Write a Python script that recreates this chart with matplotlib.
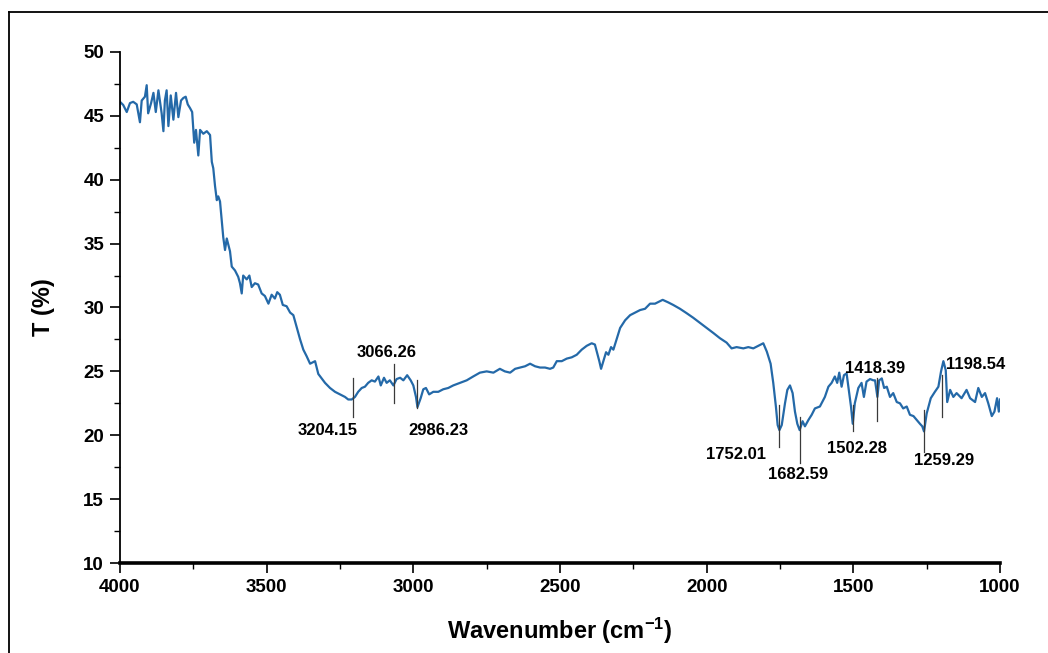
import matplotlib
matplotlib.use("Agg")
import matplotlib.pyplot as plt
from matplotlib.lines import Line2D
from matplotlib.ticker import MultipleLocator

plt.rcParams['font.family'] = ['Liberation Sans', 'DejaVu Sans']
plt.rcParams['font.weight'] = 'bold'
plt.rcParams['mathtext.fontset'] = 'custom'
plt.rcParams['mathtext.rm'] = 'Liberation Sans:bold'
plt.rcParams['mathtext.bf'] = 'Liberation Sans:bold'
plt.rcParams['mathtext.default'] = 'bf'

# FTIR spectrum: wavenumber (cm-1) and transmittance (%)
wavenumber = [
    4000, 3989, 3977, 3966, 3955, 3943, 3932, 3926, 3915, 3909, 3904, 3894, 3886, 3878,
    3869, 3858, 3852, 3847, 3841, 3835, 3827, 3818, 3809, 3801, 3792, 3784, 3776, 3769,
    3761, 3754, 3747, 3741, 3733, 3727, 3716, 3704, 3693, 3687, 3682, 3676, 3670, 3665,
    3659, 3648, 3642, 3636, 3625, 3619, 3608, 3597, 3591, 3585, 3580, 3568, 3559, 3551,
    3540, 3529, 3517, 3506, 3494, 3483, 3472, 3464, 3455, 3445, 3432, 3420, 3409, 3398,
    3386, 3375, 3364, 3352, 3335, 3324, 3301, 3284, 3267, 3250, 3233, 3222, 3210, 3199,
    3188, 3176, 3165, 3154, 3142, 3131, 3119, 3111, 3100, 3091, 3080, 3068, 3057, 3045,
    3034, 3021, 3009, 3000, 2991, 2986, 2975, 2966, 2957, 2946, 2932, 2915, 2898, 2881,
    2864, 2841, 2818, 2796, 2773, 2750, 2727, 2705, 2688, 2670, 2653, 2636, 2619, 2602,
    2585, 2568, 2551, 2534, 2523, 2511, 2494, 2477, 2460, 2443, 2426, 2409, 2392, 2381,
    2373, 2366, 2360, 2352, 2343, 2335, 2326, 2318, 2307, 2295, 2278, 2261, 2244, 2227,
    2210, 2193, 2176, 2150, 2131, 2114, 2091, 2068, 2046, 2023, 2000, 1977, 1955, 1932,
    1915, 1898, 1875, 1858, 1841, 1824, 1807, 1795, 1782, 1773, 1764, 1758, 1752, 1744,
    1733, 1725, 1716, 1707, 1699, 1691, 1683, 1673, 1665, 1653, 1642, 1631, 1614, 1597,
    1585, 1574, 1563, 1555, 1548, 1540, 1532, 1523, 1514, 1508, 1502, 1495, 1483, 1472,
    1464, 1455, 1443, 1432, 1426, 1418, 1412, 1403, 1395, 1386, 1375, 1364, 1352, 1341,
    1330, 1318, 1307, 1295, 1284, 1273, 1265, 1259, 1250, 1236, 1222, 1210, 1201, 1193,
    1185, 1180, 1170, 1159, 1148, 1131, 1114, 1102, 1085, 1074, 1062, 1051, 1040, 1028,
    1019, 1010, 1004, 1000,
]
transmittance = [
    46.1, 45.85, 45.3, 46.0, 46.1, 45.9, 44.5, 46.2, 46.5, 47.4, 45.2, 46.0, 46.8, 45.3,
    47.0, 45.2, 43.8, 46.2, 47.0, 44.2, 46.6, 44.7, 46.8, 44.9, 46.2, 46.4, 46.5, 45.9,
    45.6, 45.3, 42.9, 43.9, 41.9, 43.9, 43.6, 43.8, 43.5, 41.4, 40.9, 39.5, 38.4, 38.7,
    38.3, 35.5, 34.5, 35.4, 34.4, 33.2, 32.9, 32.4, 31.9, 31.1, 32.5, 32.2, 32.5, 31.6,
    31.9, 31.8, 31.1, 30.9, 30.3, 31.0, 30.7, 31.2, 31.0, 30.2, 30.1, 29.6, 29.4, 28.5,
    27.5, 26.7, 26.2, 25.6, 25.8, 24.8, 24.1, 23.7, 23.4, 23.2, 23.0, 22.8, 22.8, 23.0,
    23.4, 23.7, 23.8, 24.1, 24.3, 24.2, 24.6, 23.9, 24.5, 24.1, 24.3, 23.9, 24.4, 24.5,
    24.3, 24.7, 24.3, 23.9, 23.0, 22.2, 22.9, 23.6, 23.7, 23.2, 23.4, 23.4, 23.6, 23.7,
    23.9, 24.1, 24.3, 24.6, 24.9, 25.0, 24.9, 25.2, 25.0, 24.9, 25.2, 25.3, 25.4, 25.6,
    25.4, 25.3, 25.3, 25.2, 25.3, 25.8, 25.8, 26.0, 26.1, 26.3, 26.7, 27.0, 27.2, 27.1,
    26.4, 25.8, 25.2, 25.8, 26.5, 26.3, 26.9, 26.7, 27.5, 28.4, 29.0, 29.4, 29.6, 29.8,
    29.9, 30.3, 30.3, 30.6, 30.4, 30.2, 29.9, 29.55, 29.2, 28.8, 28.4, 28.0, 27.6, 27.25,
    26.8, 26.9, 26.8, 26.9, 26.8, 27.0, 27.2, 26.55, 25.6, 24.1, 22.25, 20.8, 20.4, 20.8,
    22.5, 23.55, 23.9, 23.3, 21.85, 20.9, 20.4, 21.1, 20.7, 21.2, 21.6, 22.1, 22.25, 23.0,
    23.8, 24.1, 24.6, 24.1, 24.9, 23.8, 24.7, 24.85, 23.3, 22.25, 20.9, 22.5, 23.7, 24.1,
    23.0, 24.2, 24.4, 24.3, 24.3, 23.0, 24.3, 24.45, 23.7, 23.8, 23.0, 23.3, 22.6, 22.5,
    22.1, 22.25, 21.6, 21.5, 21.2, 20.9, 20.7, 20.3, 21.7, 22.9, 23.4, 23.8, 25.0, 25.8,
    25.1, 22.6, 23.55, 23.0, 23.3, 22.9, 23.55, 22.9, 22.6, 23.7, 23.0, 23.3, 22.5, 21.5,
    21.85, 22.9, 21.85, 22.8,
]

# Labelled band positions (cm-1)
peak_positions = [3204.15, 3066.26, 2986.23, 1752.01, 1682.59, 1502.28, 1418.39, 1259.29, 1198.54]

x_ticks = [4000, 3500, 3000, 2500, 2000, 1500, 1000]
y_ticks = [10, 15, 20, 25, 30, 35, 40, 45, 50]

fig = plt.figure(figsize=(10.48, 6.53), dpi=100)
ax = fig.add_axes([0.1145, 0.1378, 0.8397, 0.7826])

ax.plot(wavenumber, transmittance, color='#2469a8', lw=1.6)

ax.set_xlim(4000, 1000)
ax.set_ylim(10, 50)
ax.set_xticks(x_ticks)
ax.set_yticks(y_ticks)
ax.xaxis.set_minor_locator(MultipleLocator(250))
ax.yaxis.set_minor_locator(MultipleLocator(2.5))

for side in ('top', 'right'):
    ax.spines[side].set_visible(False)
ax.spines['left'].set_linewidth(1.3)
ax.spines['bottom'].set_linewidth(2.6)

ax.tick_params(axis='both', which='major', direction='out', length=7, width=1.2,
               labelsize=13.5, pad=4.5)
ax.tick_params(axis='both', which='minor', direction='out', length=4, width=1.0)
for lab in ax.get_xticklabels() + ax.get_yticklabels():
    lab.set_fontweight('bold')

ax.set_xlabel('Wavenumber (cm$^{\\mathbf{-1}}$)', fontsize=17, fontweight='bold', labelpad=14)
ax.set_ylabel('T (%)', fontsize=17, fontweight='bold', labelpad=20)

# Marker line extents and label placement for each band: (low, high, label x, label y)
marker_layout = [
    (21.4, 24.5, 3291, 20.35),
    (22.5, 25.6, 3091, 26.5),
    (22.1, 24.3, 2916, 20.4),
    (19.1, 22.4, 1900, 18.5),
    (17.8, 21.4, 1690, 16.9),
    (20.3, 22.4, 1489, 19.0),
    (21.1, 24.5, 1426, 25.2),
    (18.7, 22.0, 1191, 18.0),
    (21.4, 24.7, 1082, 25.5),
]
for pos, (lo, hi, lx, ly) in zip(peak_positions, marker_layout):
    ax.plot([pos, pos], [lo, hi], color='#3a3a3a', lw=0.9)
    ax.text(lx, ly, f'{pos:.2f}', ha='center', va='center', fontsize=12, fontweight='bold')

# Frame around the figure
fig.add_artist(Line2D([0.0086, 0.0086], [0.0, 0.9816], color='black', lw=1.3,
                      transform=fig.transFigure))
fig.add_artist(Line2D([0.0086, 1.0], [0.9816, 0.9816], color='black', lw=1.3,
                      transform=fig.transFigure))

fig.savefig('out.png', dpi=100)
